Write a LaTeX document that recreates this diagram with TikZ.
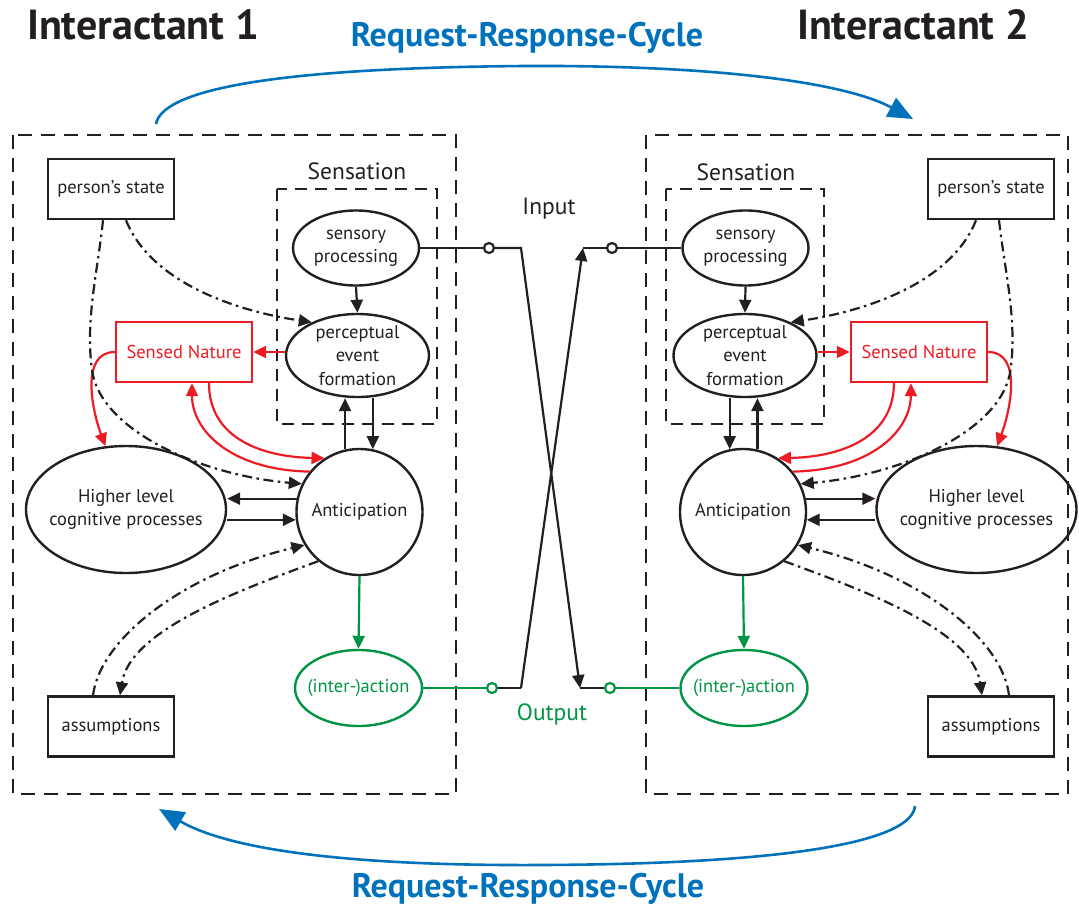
\documentclass[tikz,border=0pt]{standalone}
\usepackage{fontspec}
\setmainfont{PT Sans}
\usetikzlibrary{arrows.meta,shapes.geometric}
\definecolor{dred}{RGB}{237,28,36}
\definecolor{dgreen}{RGB}{0,148,68}
\definecolor{dblue}{RGB}{0,114,188}
\definecolor{ink}{RGB}{35,31,32}
\begin{document}
\begin{tikzpicture}[x=1pt,y=-1pt,
  every node/.style={text=ink, font=\fontsize{18.5}{23.5}\selectfont},
  box/.style={draw=ink, line width=2.4pt, minimum width=126pt, minimum height=60pt, inner sep=0pt},
  ell/.style={ellipse, draw=ink, line width=2.4pt, inner sep=0pt},
  inlbl/.style={align=center, inner sep=0pt},
  conn/.style={draw=ink, line width=2.2pt, -{Triangle[length=13pt,width=12pt]}},
  dd/.style={conn, dash pattern=on 10pt off 4.5pt on 2.5pt off 4.5pt},
  redc/.style={conn, draw=dred},
  plain/.style={draw=#1, line width=2.2pt},
  port/.style={circle, draw=#1, fill=white, line width=2.2pt, minimum size=10pt, inner sep=0pt},
  outerbox/.style={draw=ink, line width=2.2pt, dash pattern=on 14pt off 9pt},
  sensbox/.style={draw=ink, line width=2.2pt, dash pattern=on 12pt off 8pt},
  cyc/.style={draw=dblue, line width=2.6pt, -{Triangle[length=25pt,width=21pt]}},
  title/.style={font=\fontsize{42}{46}\selectfont\bfseries},
  cyctext/.style={text=dblue, font=\fontsize{34}{38}\selectfont\bfseries},
  biglbl/.style={font=\fontsize{23.5}{26}\selectfont}]
\useasboundingbox (0,0) rectangle (1079,905);

% titles
\node[title] (t1) at (143,25) {Interactant 1};
\node[title] (t2) at (913,25) {Interactant 2};
\node[cyctext] (c1) at (527,38) {Request-Response-Cycle};
\node[cyctext] (c2) at (528,889) {Request-Response-Cycle};

% outer boxes
\draw[outerbox] (13,135) rectangle (456,794);
\draw[outerbox] (646,135) rectangle (1068,794);
\draw[sensbox] (277,189) rectangle (437,424);
\draw[sensbox] (666,189) rectangle (824,424);
\node[biglbl] (s1) at (357,171) {Sensation};
\node[biglbl] (s2) at (746,172) {Sensation};
\node[biglbl] (inp) at (549,209) {Input};
\node[biglbl, text=dgreen] (outp) at (552,714) {Output};

% ---------- left nodes ----------
\node[box] (ps1) at (111,189) {person’s state};
\node[box] (as1) at (111,726.5) {assumptions};
\node[box, draw=dred, text=dred, minimum width=136pt] (sn1) at (184,352) {Sensed Nature};
\node[ell, minimum width=126pt, minimum height=75pt, label={[inlbl]center:sensory\\processing}] (sp1) at (356,248) {};
\node[ell, minimum width=143pt, minimum height=83pt, label={[inlbl]center:perceptual\\event\\formation}] (pe1) at (357.5,355.5) {};
\node[circle, draw=ink, line width=2.4pt, minimum size=126pt, inner sep=0pt] (an1) at (359.5,512) {Anticipation};
\node[ell, minimum width=200pt, minimum height=127pt, label={[inlbl]center:Higher level\\cognitive processes}] (hl1) at (126,509.5) {};
\node[ell, draw=dgreen, minimum width=127pt, minimum height=76pt, label={[inlbl, text=dgreen]center:(inter-)action}] (ia1) at (358.5,688) {};

% ---------- right nodes ----------
\node[box] (ps2) at (991,189) {person’s state};
\node[box] (as2) at (991,726.5) {assumptions};
\node[box, draw=dred, text=dred, minimum width=136pt] (sn2) at (919,352) {Sensed Nature};
\node[ell, minimum width=126pt, minimum height=75pt, label={[inlbl]center:sensory\\processing}] (sp2) at (745.5,248) {};
\node[ell, minimum width=143pt, minimum height=83pt, label={[inlbl]center:perceptual\\event\\formation}] (pe2) at (745,355.5) {};
\node[circle, draw=ink, line width=2.4pt, minimum size=126pt, inner sep=0pt] (an2) at (743,512) {Anticipation};
\node[ell, minimum width=200pt, minimum height=127pt, label={[inlbl]center:Higher level\\cognitive processes}] (hl2) at (976.5,509.5) {};
\node[ell, draw=dgreen, minimum width=127pt, minimum height=76pt, label={[inlbl, text=dgreen]center:(inter-)action}] (ia2) at (744,688) {};

% ---------- ports and wiring ----------
\node[port=ink] (p1) at (489,248) {};
\node[port=dgreen] (p2) at (492,688) {};
\node[port=ink] (p3) at (612,248) {};
\node[port=dgreen] (p4) at (610,688) {};
\coordinate (k1) at (521,248);
\coordinate (k2) at (580,688);
\coordinate (k3) at (521,688);
\coordinate (k4) at (583,248);

\draw[plain=ink] (sp1.east) -- (p1);
\draw[conn] (p1) -- (k1) -- (k2);
\draw[plain=ink] (k2) -- (p4);
\draw[plain=dgreen] (p4) -- (ia2.west);
\draw[plain=dgreen] (ia1.east) -- (p2);
\draw[plain=ink] (p2) -- (k3);
\draw[conn] (k3) -- (k4);
\draw[plain=ink] (k4) -- (p3) -- (sp2.west);

% ---------- left connectors ----------
\draw[conn] (sp1.south) -- (pe1.north);
\draw[redc] (pe1.west |- sn1.east) -- (sn1.east);
\draw[conn] (an1.103) -- (an1.103 |- pe1.south);
\draw[conn] (an1.78 |- pe1.south) -- (an1.78);
\draw[redc] (sn1.west) .. controls (80,352) and (92,410) .. (hl1.108);
\draw[redc] ([xshift=25pt]sn1.south) .. controls (209,440) and (265,457) .. (an1.123);
\draw[redc] (an1.141) .. controls (230,470) and (192,430) .. ([xshift=8pt]sn1.south);
\draw[dd] ([xshift=15pt]ps1.south) .. controls (150,280) and (230,310) .. (pe1.144);
\draw[dd] ([xshift=-8pt]ps1.south) .. controls (98,270) and (85,320) .. (92,370)
   .. controls (100,430) and (200,475) .. (an1.154);
\draw[conn] (an1.168) -- (hl1.east |- an1.168);
\draw[conn] (hl1.east |- an1.187) -- (an1.187);
\draw[dd] ([xshift=-18pt]as1.north) .. controls (100,640) and (180,575) .. (an1.211);
\draw[dd] (an1.230) .. controls (240,590) and (130,630) .. ([xshift=9pt]as1.north);
\draw[conn, draw=dgreen] (an1.south) -- (ia1.north);

% ---------- right connectors ----------
\draw[conn] (sp2.south) -- (pe2.north);
\draw[redc] (pe2.east |- sn2.west) -- (sn2.west);
\draw[conn] (an2.77) -- (an2.77 |- pe2.south);
\draw[conn] (an2.102 |- pe2.south) -- (an2.102);
\draw[redc] (sn2.east) .. controls (1022.5,352) and (1010.5,410) .. (hl2.72);
\draw[redc] ([xshift=-25pt]sn2.south) .. controls (893.5,440) and (837.5,457) .. (an2.57);
\draw[redc] (an2.39) .. controls (872.5,470) and (910.5,430) .. ([xshift=-8pt]sn2.south);
\draw[dd] ([xshift=-15pt]ps2.south) .. controls (952.5,280) and (872.5,310) .. (pe2.36);
\draw[dd] ([xshift=8pt]ps2.south) .. controls (1004.5,270) and (1017.5,320) .. (1010.5,370)
   .. controls (1002.5,430) and (902.5,475) .. (an2.26);
\draw[conn] (an2.12) -- (hl2.west |- an2.12);
\draw[conn] (hl2.west |- an2.353) -- (an2.353);
\draw[dd] ([xshift=18pt]as2.north) .. controls (1002.5,640) and (922.5,575) .. (an2.329);
\draw[dd] (an2.310) .. controls (862.5,590) and (972.5,630) .. ([xshift=-9pt]as2.north);
\draw[conn, draw=dgreen] (an2.south) -- (ia2.north);

% ---------- request-response cycles ----------
\coordinate (r1) at (156,124);
\coordinate (r2) at (913,119);
\coordinate (r3) at (915,806);
\coordinate (r4) at (159,809);
\draw[cyc] (r1) .. controls (162,92) and (260,68) .. (525,66) .. controls (700,65) and (840,80) .. (r2);
\draw[cyc] (r3) .. controls (912,840) and (800,864) .. (540,865) .. controls (350,866) and (230,850) .. (r4);
\end{tikzpicture}
\end{document}
